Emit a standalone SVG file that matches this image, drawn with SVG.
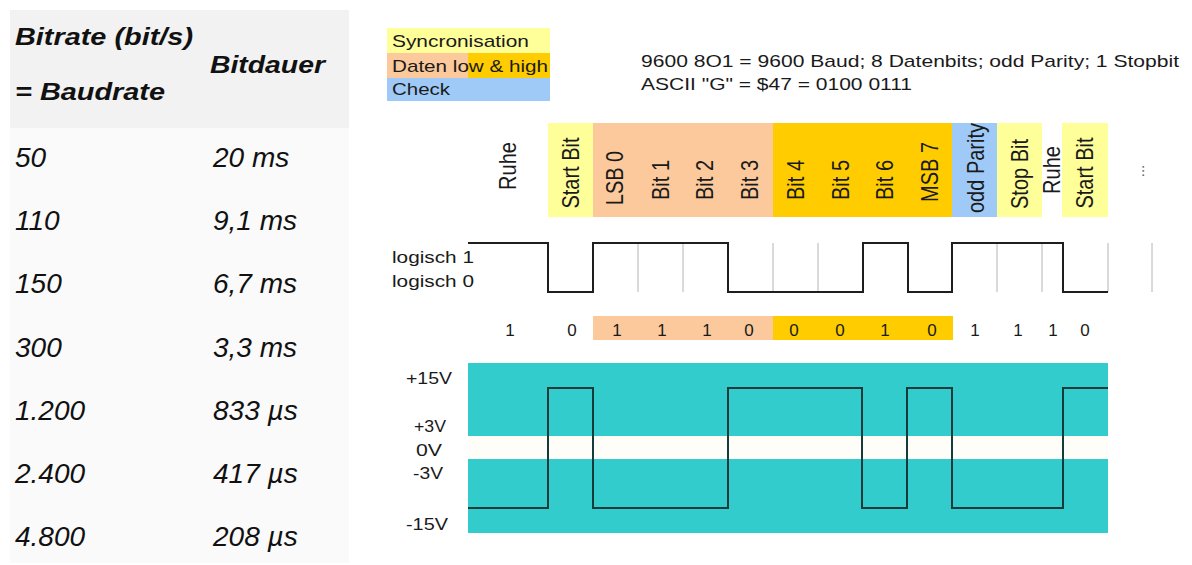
<svg xmlns="http://www.w3.org/2000/svg" width="1192" height="565" viewBox="0 0 1192 565">
<style>
.t{font-family:"Liberation Sans",Arial,sans-serif;fill:#111}
.hd{font-weight:bold;font-style:italic;font-size:24px}
.bd{font-style:italic;font-size:28px}
.s{font-size:17px;fill:#1a1a1a}
.r{font-size:20px;fill:#1a1a1a}
.m{text-anchor:middle}
.yel{fill:#ffff99}
.pea{fill:#fbc99b}
.gold{fill:#ffcc00}
.blu{fill:#9fcaf7}
.teal{fill:#33cccc}
.tick{stroke:#b4b4b4;stroke-width:1;fill:none}
.wave{fill:none;stroke:#1e1e1e;stroke-width:2}
.vwave{fill:none;stroke:#173a3a;stroke-width:2}
</style>
<rect x="0" y="0" width="1192" height="565" fill="#ffffff"/>

<g id="table">
  <rect x="10" y="10" width="339" height="118" fill="#f2f2f2"/>
  <rect x="10" y="128" width="339" height="435" fill="#fafafa"/>
  <text class="t hd" x="15" y="45" textLength="178" lengthAdjust="spacingAndGlyphs">Bitrate (bit/s)</text>
  <text class="t hd" x="15" y="100" textLength="150" lengthAdjust="spacingAndGlyphs">= Baudrate</text>
  <text class="t hd" x="210" y="73" textLength="115" lengthAdjust="spacingAndGlyphs">Bitdauer</text>
  <text class="t bd" x="15" y="167">50</text><text class="t bd" x="213" y="167">20 ms</text>
  <text class="t bd" x="15" y="230">110</text><text class="t bd" x="213" y="230">9,1 ms</text>
  <text class="t bd" x="15" y="293">150</text><text class="t bd" x="213" y="293">6,7 ms</text>
  <text class="t bd" x="15" y="357">300</text><text class="t bd" x="213" y="357">3,3 ms</text>
  <text class="t bd" x="15" y="420">1.200</text><text class="t bd" x="213" y="420">833 µs</text>
  <text class="t bd" x="15" y="483">2.400</text><text class="t bd" x="213" y="483">417 µs</text>
  <text class="t bd" x="15" y="546">4.800</text><text class="t bd" x="213" y="546">208 µs</text>
</g>

<g id="legend">
  <rect class="yel" x="387" y="28" width="163" height="25"/>
  <rect class="pea" x="387" y="53" width="81" height="25"/>
  <rect class="gold" x="468" y="53" width="82" height="25"/>
  <rect class="blu" x="387" y="78" width="163" height="23"/>
  <text class="t s" x="392" y="47" textLength="137" lengthAdjust="spacingAndGlyphs">Syncronisation</text>
  <text class="t s" x="392" y="72" textLength="156" lengthAdjust="spacingAndGlyphs">Daten low &amp; high</text>
  <text class="t s" x="392" y="95" textLength="58" lengthAdjust="spacingAndGlyphs">Check</text>
</g>

<g id="info">
  <text class="t s" x="641" y="67" textLength="538" lengthAdjust="spacingAndGlyphs">9600 8O1 = 9600 Baud; 8 Datenbits; odd Parity; 1 Stopbit</text>
  <text class="t s" x="641" y="90" textLength="271" lengthAdjust="spacingAndGlyphs">ASCII "G" = $47 = 0100 0111</text>
</g>

<g id="frame-header">
  <rect class="yel" x="548" y="123" width="45" height="94"/>
  <rect class="pea" x="593" y="123" width="180" height="94"/>
  <rect class="gold" x="773" y="123" width="179" height="94"/>
  <rect class="blu" x="952" y="123" width="45" height="94"/>
  <rect class="yel" x="997" y="123" width="45" height="94"/>
  <rect class="yel" x="1062" y="123" width="46" height="94"/>
  <text class="t r m" transform="translate(508,166) scale(1.2,1) rotate(-90)" y="7">Ruhe</text>
  <text class="t r m" transform="translate(571,173) scale(1.2,1) rotate(-90)" y="7">Start Bit</text>
  <text class="t r m" transform="translate(615,178) scale(1.2,1) rotate(-90)" y="7">LSB 0</text>
  <text class="t r m" transform="translate(661,180) scale(1.2,1) rotate(-90)" y="7">Bit 1</text>
  <text class="t r m" transform="translate(705,180) scale(1.2,1) rotate(-90)" y="7">Bit 2</text>
  <text class="t r m" transform="translate(750,180) scale(1.2,1) rotate(-90)" y="7">Bit 3</text>
  <text class="t r m" transform="translate(796,180) scale(1.2,1) rotate(-90)" y="7">Bit 4</text>
  <text class="t r m" transform="translate(841,180) scale(1.2,1) rotate(-90)" y="7">Bit 5</text>
  <text class="t r m" transform="translate(885,180) scale(1.2,1) rotate(-90)" y="7">Bit 6</text>
  <text class="t r m" transform="translate(930,172) scale(1.2,1) rotate(-90)" y="7">MSB 7</text>
  <text class="t r m" transform="translate(976,168) scale(1.2,1) rotate(-90)" y="7">odd Parity</text>
  <text class="t r m" transform="translate(1020,174) scale(1.2,1) rotate(-90)" y="7">Stop Bit</text>
  <text class="t r m" transform="translate(1052,170) scale(1.2,1) rotate(-90)" y="7">Ruhe</text>
  <text class="t r m" transform="translate(1085,173) scale(1.2,1) rotate(-90)" y="7">Start Bit</text>
  <text class="t m" style="font-size:15px;fill:#555" transform="translate(1139,171) rotate(-90)" y="5">...</text>
</g>

<g id="logic-signal">
  <text class="t s" x="392" y="263" textLength="82" lengthAdjust="spacingAndGlyphs">logisch 1</text>
  <text class="t s" x="392" y="287" textLength="82" lengthAdjust="spacingAndGlyphs">logisch 0</text>
  <path class="tick" d="M638,243V292M683,243V292M773,243V292M818,243V292M997,243V292M1042,243V292M1108,243V292M1152,243V292"/>
  <path class="wave" d="M468,243H548V292H593V243H728V292H863V243H908V292H952V243H1063V292H1108"/>
</g>

<g id="bit-values">
  <rect class="pea" x="593" y="316" width="180" height="24"/>
  <rect class="gold" x="773" y="316" width="180" height="24"/>
  <text class="t s m" x="510" y="336">1</text>
  <text class="t s m" x="572" y="336">0</text>
  <text class="t s m" x="617" y="336">1</text>
  <text class="t s m" x="662" y="336">1</text>
  <text class="t s m" x="707" y="336">1</text>
  <text class="t s m" x="749" y="336">0</text>
  <text class="t s m" x="794" y="336">0</text>
  <text class="t s m" x="840" y="336">0</text>
  <text class="t s m" x="885" y="336">1</text>
  <text class="t s m" x="932" y="336">0</text>
  <text class="t s m" x="975" y="336">1</text>
  <text class="t s m" x="1018" y="336">1</text>
  <text class="t s m" x="1053" y="336">1</text>
  <text class="t s m" x="1085" y="336">0</text>
</g>

<g id="voltage-signal">
  <rect class="teal" x="468" y="363" width="640" height="73"/>
  <rect x="468" y="436" width="640" height="23" fill="#fffdf8"/>
  <rect class="teal" x="468" y="459" width="640" height="74"/>
  <text class="t s m" x="429" y="384" textLength="46" lengthAdjust="spacingAndGlyphs">+15V</text>
  <text class="t s m" x="430" y="432" textLength="32" lengthAdjust="spacingAndGlyphs">+3V</text>
  <text class="t s m" x="429" y="456" textLength="26" lengthAdjust="spacingAndGlyphs">0V</text>
  <text class="t s m" x="428" y="479" textLength="30" lengthAdjust="spacingAndGlyphs">-3V</text>
  <text class="t s m" x="427" y="530" textLength="42" lengthAdjust="spacingAndGlyphs">-15V</text>
  <path class="vwave" d="M468,508H548V388H593V508H728V388H862V508H907V388H952V508H1063V388H1108"/>
</g>
</svg>
